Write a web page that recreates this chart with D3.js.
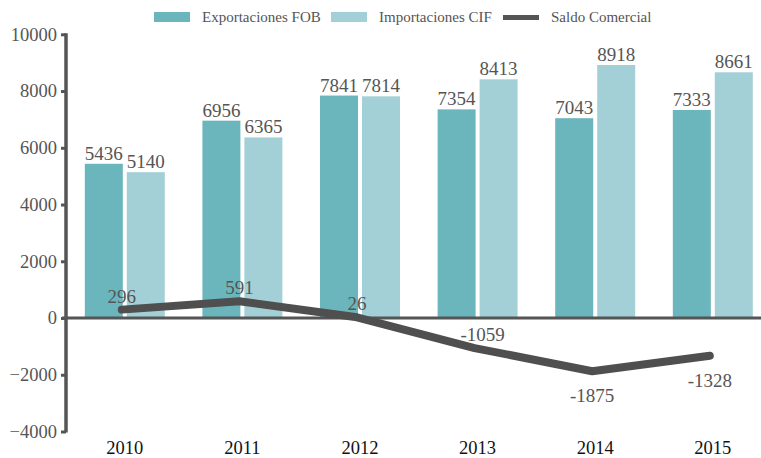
<!DOCTYPE html>
<html><head><meta charset="utf-8">
<script src="https://cdn.jsdelivr.net/npm/d3@7"></script>
<style>body{margin:0;background:#fff}svg{display:block}svg text{font-family:"Liberation Serif",serif !important}</style>
</head><body><svg id="c" width="761" height="458"></svg>
<script>
const years = ["2010","2011","2012","2013","2014","2015"];
const exportaciones = [5436, 6956, 7841, 7354, 7043, 7333];
const importaciones = [5140, 6365, 7814, 8413, 8918, 8661];
const saldo = [296, 591, 26, -1059, -1875, -1328];
const yTicks = [-4000, -2000, 0, 2000, 4000, 6000, 8000, 10000];
const seriesNames = ["Exportaciones FOB", "Importaciones CIF", "Saldo Comercial"];
const colors = ["#6bb5bd", "#a2d0d6", "#4f4f4f"];

const svg = d3.select("#c");
const axisColor = "#555";
const textColor = "#555";

const x0 = d3.scaleBand().domain(years).range([66, 771.6]).padding(0);
const x1 = d3.scaleBand().domain([0,1]).range([0, x0.bandwidth()]).paddingInner(0.095).paddingOuter(0.448);
const y = d3.scaleLinear().domain([-4000, 10000]).range([431.5, 34.3]);

// bars
const g = svg.append("g");
years.forEach((yr, i) => {
  [exportaciones[i], importaciones[i]].forEach((v, j) => {
    const bx = x0(yr) + x1(j);
    g.append("rect").attr("x", bx).attr("y", y(v)).attr("width", x1.bandwidth())
      .attr("height", y(0) - y(v)).attr("fill", colors[j]);
    g.append("text").attr("x", bx + x1.bandwidth()/2).attr("y", y(v) - 4)
      .attr("text-anchor", "middle").attr("font-size", 19).attr("fill", textColor).text(v);
  });
});

// zero line
svg.append("line").attr("x1", 62).attr("x2", 761).attr("y1", y(0)).attr("y2", y(0))
  .attr("stroke", axisColor).attr("stroke-width", 3);

// y axis
const yAxis = d3.axisLeft(y).tickValues(yTicks).tickSize(5).tickPadding(4).tickFormat(d3.format("d"));
const ya = svg.append("g").attr("transform", "translate(66,0)").call(yAxis);
ya.select(".domain").attr("stroke", axisColor).attr("stroke-width", 3.5).attr("d", `M0,${y(10000)-1}V${y(-4000)+1}`);
ya.selectAll(".tick line").attr("stroke", axisColor).attr("stroke-width", 3);
ya.selectAll(".tick text").attr("font-size", 18.5).attr("fill", textColor);

// x labels
const xa = svg.append("g").attr("transform", "translate(0,431)")
  .call(d3.axisBottom(x0).tickSize(0).tickPadding(10));
xa.select(".domain").remove();
xa.selectAll(".tick text").attr("font-size", 18.5).attr("fill", "#111");

// line
const cx = d => x0(d) + x0.bandwidth()/2 - 3;
const line = d3.line().x((d,i) => cx(years[i])).y(d => y(d));
svg.append("path").datum(saldo).attr("d", line).attr("fill", "none")
  .attr("stroke", colors[2]).attr("stroke-width", 8).attr("stroke-linecap", "round").attr("stroke-linejoin", "round");
saldo.forEach((v, i) => {
  const below = i >= 4;
  svg.append("text").attr("x", cx(years[i]) + (i===3?8:0)).attr("y", below ? y(v) + 31 : y(v) - 7)
    .attr("text-anchor", "middle").attr("font-size", 19).attr("fill", textColor).text(v);
});

// legend
const leg = [{x:154, t:202},{x:331, t:379},{x:503, t:551}];
leg.forEach((l, i) => {
  if (i < 2) svg.append("rect").attr("x", l.x).attr("y", 12).attr("width", 36).attr("height", 10).attr("fill", colors[i]);
  else svg.append("rect").attr("x", l.x).attr("y", 15).attr("width", 36).attr("height", 5).attr("fill", "#555");
  svg.append("text").attr("x", l.t).attr("y", 22).attr("font-size", 15).attr("fill", textColor).text(seriesNames[i]);
});
</script></body></html>
